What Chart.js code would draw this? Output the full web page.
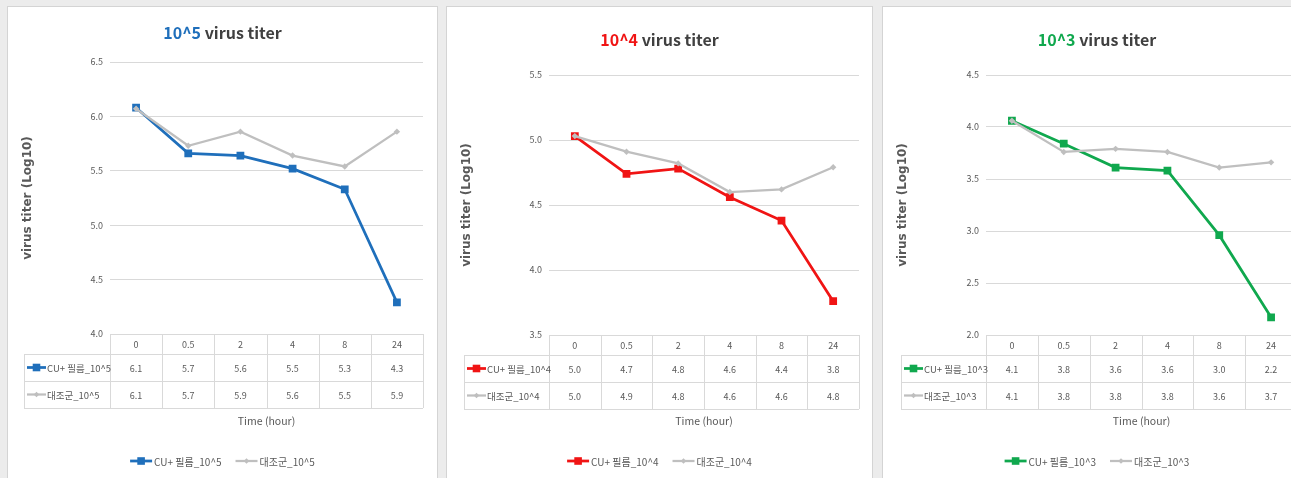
<!DOCTYPE html>
<html>
<head>
<meta charset="utf-8">
<script src="https://cdn.jsdelivr.net/npm/chart.js@4.4.1/dist/chart.umd.min.js"></script>
<style>
  html, body { margin: 0; padding: 0; }
  body { width: 1291px; height: 478px; overflow: hidden; background: #ececec; position: relative; }
  .panel { position: absolute; top: 7px; height: 471px; background: #fff; box-shadow: 0 0 0 1px #d4d4d4; }
  .panel canvas { display: block; }
</style>
</head>
<body>
<div class="panel" style="left:8px;width:429px"><canvas id="c5" width="429" height="471"></canvas></div>
<div class="panel" style="left:447px;width:425px"><canvas id="c4" width="425" height="471"></canvas></div>
<div class="panel" style="left:883px;width:428px"><canvas id="c3" width="428" height="471"></canvas></div>
<script>
// time points (hour)
const timeLabels = ["0", "0.5", "2", "4", "8", "24"];

// 10^5 titer
const cu5 = [6.08, 5.66, 5.64, 5.52, 5.33, 4.29];
const ctrl5 = [6.07, 5.73, 5.86, 5.64, 5.54, 5.86];
// 10^4 titer
const cu4 = [5.03, 4.74, 4.78, 4.56, 4.38, 3.76];
const ctrl4 = [5.03, 4.91, 4.82, 4.60, 4.62, 4.79];
// 10^3 titer
const cu3 = [4.06, 3.84, 3.61, 3.58, 2.96, 2.17];
const ctrl3 = [4.06, 3.76, 3.79, 3.76, 3.61, 3.66];

const yRange5 = [4.0, 6.5];
const yRange4 = [3.5, 5.5];
const yRange3 = [2.0, 4.5];

const SANS = '"Noto Sans CJK KR", "Noto Sans", sans-serif';
const TXT = "#595959";
const RULE = "#d9d9d9";
const GRAY = "#bfbfbf";

function drawMarker(ctx, style, x, y, r, color) {
  ctx.fillStyle = color;
  ctx.beginPath();
  if (style === "rect") {
    ctx.rect(x - r, y - r, 2 * r, 2 * r);
  } else {
    ctx.moveTo(x, y - r); ctx.lineTo(x + r, y); ctx.lineTo(x, y + r); ctx.lineTo(x - r, y);
    ctx.closePath();
  }
  ctx.fill();
}

function drawKey(ctx, ds, x, y, len) {
  ctx.strokeStyle = ds.borderColor;
  ctx.lineWidth = ds.borderWidth;
  ctx.beginPath();
  ctx.moveTo(x, y); ctx.lineTo(x + len, y);
  ctx.stroke();
  const r = ds.pointStyle === "rect" ? 3.8 : 2.8;
  drawMarker(ctx, ds.pointStyle, x + len / 2, y, r, ds.borderColor);
}

const excelExtras = {
  id: "excelExtras",
  afterDraw(chart, args, opts) {
    const { ctx, chartArea: a } = chart;
    const xs = chart.scales.x;
    const labels = chart.data.labels;
    const sets = chart.data.datasets;
    const n = labels.length;
    const step = (a.right - a.left) / n;
    const top = a.bottom, r0 = top + 20, r1 = r0 + 27, r2 = r1 + 27;
    const L = opts.tableLeft;
    const px = (v) => Math.round(v) + 0.5;

    ctx.save();
    // table rules
    ctx.strokeStyle = RULE;
    ctx.lineWidth = 1;
    ctx.beginPath();
    ctx.moveTo(a.left, px(top)); ctx.lineTo(a.right, px(top));
    [r0, r1, r2].forEach((y) => { ctx.moveTo(L, px(y)); ctx.lineTo(a.right, px(y)); });
    ctx.moveTo(px(L), r0); ctx.lineTo(px(L), r2);
    for (let k = 0; k <= n; k++) {
      const vx = px(a.left + k * step);
      ctx.moveTo(vx, top); ctx.lineTo(vx, r2);
    }
    ctx.stroke();

    // header row = category labels
    ctx.fillStyle = TXT;
    ctx.font = `9px ${SANS}`;
    ctx.textAlign = "center";
    ctx.textBaseline = "middle";
    labels.forEach((l, i) => ctx.fillText(l, xs.getPixelForValue(i), (top + r0) / 2 + 1));

    // value rows
    sets.forEach((ds, k) => {
      const yc = [(r0 + r1) / 2, (r1 + r2) / 2][k];
      ctx.fillStyle = TXT;
      ctx.font = `9px ${SANS}`;
      ctx.textAlign = "center";
      ds.data.forEach((v, i) => ctx.fillText(v.toFixed(1), xs.getPixelForValue(i), yc + 1));
      drawKey(ctx, ds, L + 3, yc, 19);
      ctx.fillStyle = TXT;
      ctx.font = `9.5px ${SANS}`;
      ctx.textAlign = "left";
      ctx.fillText(ds.label, L + 23, yc + 1);
    });

    // two-colour title
    ctx.font = `bold 16px ${SANS}`;
    ctx.textAlign = "left";
    ctx.textBaseline = "middle";
    const parts = opts.title;
    const tw = parts.reduce((s, p) => s + ctx.measureText(p[0]).width, 0);
    let tx = chart.width / 2 - tw / 2;
    parts.forEach(([t, c]) => {
      ctx.fillStyle = c;
      ctx.fillText(t, tx, opts.titleY);
      tx += ctx.measureText(t).width;
    });

    // bottom legend
    ctx.font = `10px ${SANS}`;
    const keyW = 22, gap = 14;
    const widths = sets.map((ds) => keyW + 2 + ctx.measureText(ds.label).width);
    let lx = chart.width / 2 - (widths[0] + widths[1] + gap) / 2;
    const ly = opts.legendY;
    sets.forEach((ds, k) => {
      drawKey(ctx, ds, lx, ly, keyW);
      ctx.fillStyle = TXT;
      ctx.textAlign = "left";
      ctx.fillText(ds.label, lx + keyW + 2, ly + 1);
      lx += widths[k] + gap;
    });
    ctx.restore();
  },
};

function panel(id, cfg) {
  const canvas = document.getElementById(id);
  return new Chart(canvas, {
    type: "line",
    data: {
      labels: timeLabels,
      datasets: [
        {
          label: cfg.cuName,
          data: cfg.cu,
          borderColor: cfg.color,
          backgroundColor: cfg.color,
          borderWidth: 2.75,
          pointStyle: "rect",
          pointRadius: 5.5,
          pointBorderWidth: 0,
          tension: 0,
          order: 1,
        },
        {
          label: cfg.ctrlName,
          data: cfg.ctrl,
          borderColor: GRAY,
          backgroundColor: GRAY,
          borderWidth: 2.25,
          pointStyle: "rectRot",
          pointRadius: 3.2,
          pointBorderWidth: 0,
          tension: 0,
          order: 0,
        },
      ],
    },
    options: {
      responsive: false,
      animation: false,
      layout: { padding: { top: cfg.plotTop, left: 0, right: cfg.padRight, bottom: 0 } },
      plugins: {
        legend: { display: false },
        tooltip: { enabled: false },
        title: { display: false },
        excelExtras: {
          title: cfg.title,
          titleY: cfg.titleY,
          tableLeft: cfg.tableLeft,
          legendY: 454,
        },
      },
      scales: {
        x: {
          type: "category",
          offset: true,
          grid: { display: false },
          border: { display: false },
          ticks: { display: false },
          title: {
            display: true,
            text: "Time (hour)",
            color: TXT,
            font: { family: SANS, size: 10.5 },
            padding: { top: 0, bottom: 51 },
          },
          afterFit: (s) => { s.height = cfg.xHeight; },
        },
        y: {
          min: cfg.range[0],
          max: cfg.range[1],
          border: { display: false },
          grid: { color: RULE, lineWidth: 1, drawTicks: false },
          ticks: {
            stepSize: 0.5,
            padding: 7,
            color: TXT,
            font: { family: SANS, size: 9 },
            callback: (v) => Number(v).toFixed(1),
          },
          title: {
            display: true,
            text: "virus titer (Log10)",
            color: TXT,
            font: { family: '"DejaVu Sans", sans-serif', size: 12, weight: "bold" },
            padding: { top: 13, bottom: 0 },
          },
          afterFit: (s) => { s.width = cfg.yWidth; },
        },
      },
    },
    plugins: [excelExtras],
  });
}

panel("c5", {
  cu: cu5, ctrl: ctrl5, range: yRange5,
  cuName: "CU+ 필름_10^5", ctrlName: "대조군_10^5",
  color: "#1f6fbb",
  title: [["10^5", "#1f6fbb"], [" virus titer", "#404040"]],
  titleY: 26, plotTop: 55, padRight: 14, yWidth: 102, xHeight: 144, tableLeft: 16,
});
panel("c4", {
  cu: cu4, ctrl: ctrl4, range: yRange4,
  cuName: "CU+ 필름_10^4", ctrlName: "대조군_10^4",
  color: "#f01414",
  title: [["10^4", "#f01414"], [" virus titer", "#404040"]],
  titleY: 33, plotTop: 68, padRight: 13, yWidth: 102, xHeight: 143, tableLeft: 17,
});
panel("c3", {
  cu: cu3, ctrl: ctrl3, range: yRange3,
  cuName: "CU+ 필름_10^3", ctrlName: "대조군_10^3",
  color: "#10a84e",
  title: [["10^3", "#10a84e"], [" virus titer", "#404040"]],
  titleY: 33, plotTop: 68, padRight: 14, yWidth: 103, xHeight: 143, tableLeft: 18,
});
</script>
</body>
</html>
